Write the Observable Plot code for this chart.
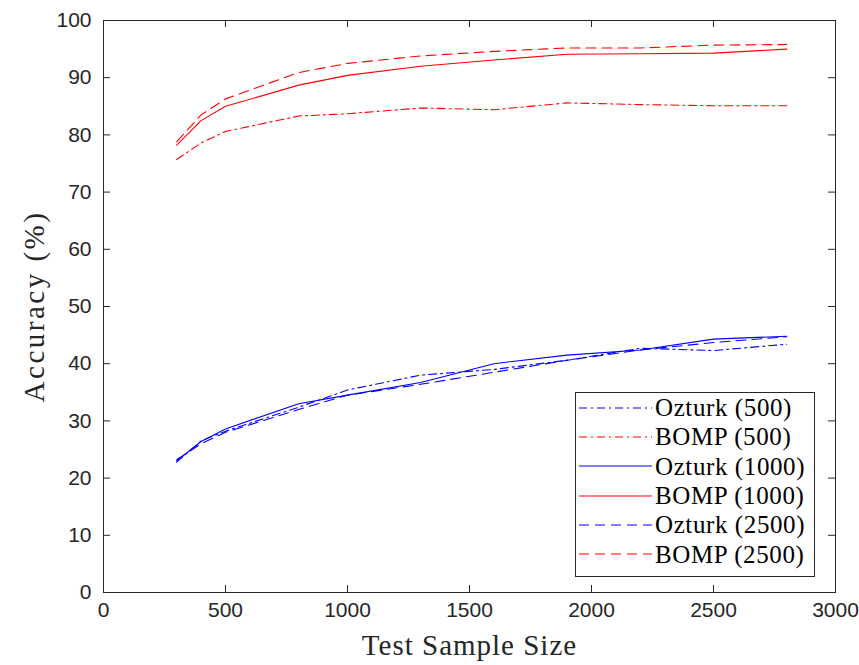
<!DOCTYPE html>
<html>
<head>
<meta charset="utf-8">
<script src="https://cdn.jsdelivr.net/npm/d3@7"></script>
<script src="https://cdn.jsdelivr.net/npm/@observablehq/plot@0.6"></script>
<style>
  html, body { margin: 0; padding: 0; background: #fff; }
  #wrap { position: relative; width: 859px; height: 665px; }
  #wrap > svg { position: absolute; left: 0; top: 0; }
  g[aria-label="x-axis label"] {
    font-family: "Liberation Serif", serif; font-size: 29px; letter-spacing: 1px;
  }
  g[aria-label="y-axis label"] {
    font-family: "Liberation Serif", serif; font-size: 29px; letter-spacing: 2.5px;
  }
  #legend {
    position: absolute; left: 575px; top: 392px; width: 240px; height: 185px;
    border: 1px solid #262626; background: #fff; box-sizing: border-box;
    padding-top: 0px;
  }
  .row { height: 29.3px; display: flex; align-items: center; }
  .row svg { display: block; margin-left: 2px; }
  .row span { font-family: "Liberation Serif", serif; font-size: 25px; letter-spacing: 0.6px; color: #000; margin-left: 3px; line-height: 1; }
</style>
</head>
<body>
<div id="wrap"></div>
<script>
const sampleSizes = [300, 400, 500, 800, 1000, 1300, 1600, 1900, 2200, 2500, 2800];
const ozturk500  = [22.8, 26.5, 28.2, 32.4, 35.4, 38.0, 39.0, 40.6, 42.7, 42.3, 43.4];
const bomp500    = [75.7, 78.6, 80.6, 83.3, 83.7, 84.7, 84.4, 85.6, 85.3, 85.1, 85.1];
const ozturk1000 = [23.0, 26.4, 28.6, 33.0, 34.5, 36.7, 40.0, 41.5, 42.4, 44.3, 44.8];
const bomp1000   = [78.2, 82.5, 85.0, 88.7, 90.4, 92.0, 93.1, 94.1, 94.2, 94.3, 95.0];
const ozturk2500 = [23.2, 26.0, 28.0, 32.0, 34.5, 36.4, 38.5, 40.6, 42.4, 43.7, 44.7];
const bomp2500   = [78.8, 83.5, 86.3, 90.9, 92.5, 93.8, 94.6, 95.2, 95.2, 95.7, 95.8];

const xTicks = [0, 500, 1000, 1500, 2000, 2500, 3000];
const yTicks = [0, 10, 20, 30, 40, 50, 60, 70, 80, 90, 100];

const DASHDOT = "8,4,2,4";
const SOLID = null;
const DASHED = "10,6";

const series = [
  {name: "Ozturk (500)",  values: ozturk500,  color: "#0000ff", dash: DASHDOT},
  {name: "BOMP (500)",    values: bomp500,    color: "#ff0000", dash: DASHDOT},
  {name: "Ozturk (1000)", values: ozturk1000, color: "#0000ff", dash: SOLID},
  {name: "BOMP (1000)",   values: bomp1000,   color: "#ff0000", dash: SOLID},
  {name: "Ozturk (2500)", values: ozturk2500, color: "#0000ff", dash: DASHED},
  {name: "BOMP (2500)",   values: bomp2500,   color: "#ff0000", dash: DASHED}
];

const W = 859, H = 665, ML = 103, MR = 24, MT = 20, MB = 73;
const innerW = W - ML - MR, innerH = H - MT - MB;
const TICK = 7;

const lineMarks = series.map(s =>
  Plot.line(sampleSizes.map((x, i) => ({x, y: s.values[i]})), {
    x: "x", y: "y", stroke: s.color, strokeWidth: 1.1,
    strokeDasharray: s.dash ?? undefined
  })
);

const axisColor = "#262626";
const fmt = d => String(d);
const chart = Plot.plot({
  width: W,
  height: H,
  marginLeft: ML,
  marginRight: MR,
  marginTop: MT,
  marginBottom: MB,
  style: {background: "#fff", color: axisColor, fontFamily: "'Liberation Sans', Arial, sans-serif", fontSize: "21px", overflow: "visible"},
  x: {domain: [0, 3000]},
  y: {domain: [0, 100]},
  marks: [
    ...lineMarks,
    // inward tick marks on all four sides
    Plot.ruleX(xTicks, {x: d => d, insetTop: innerH - TICK, stroke: axisColor, strokeWidth: 1}),
    Plot.ruleX(xTicks, {x: d => d, insetBottom: innerH - TICK, stroke: axisColor, strokeWidth: 1}),
    Plot.ruleY(yTicks, {y: d => d, insetRight: innerW - TICK, stroke: axisColor, strokeWidth: 1}),
    Plot.ruleY(yTicks, {y: d => d, insetLeft: innerW - TICK, stroke: axisColor, strokeWidth: 1}),
    Plot.frame({stroke: axisColor, strokeWidth: 1}),
    Plot.axisX(xTicks, {anchor: "bottom", tickSize: 0, tickPadding: 10, fontSize: 21, tickFormat: fmt,
      label: "Test Sample Size", labelAnchor: "center", labelOffset: 62, labelArrow: "none"}),
    Plot.axisY(yTicks, {anchor: "left", tickSize: 0, tickPadding: 12, fontSize: 21, tickFormat: fmt,
      label: "Accuracy (%)", labelAnchor: "center", labelOffset: 80, labelArrow: "none"})
  ]
});

const wrap = document.getElementById("wrap");
wrap.appendChild(chart);

const legend = document.createElement("div");
legend.id = "legend";
for (const s of series) {
  const row = document.createElement("div");
  row.className = "row";
  row.innerHTML = `<svg width="74" height="4"><line x1="1" y1="2" x2="74" y2="2" stroke="${s.color}" stroke-width="1.1" ${s.dash ? `stroke-dasharray="${s.dash}"` : ""}/></svg><span>${s.name}</span>`;
  legend.appendChild(row);
}
wrap.appendChild(legend);
</script>
</body>
</html>
